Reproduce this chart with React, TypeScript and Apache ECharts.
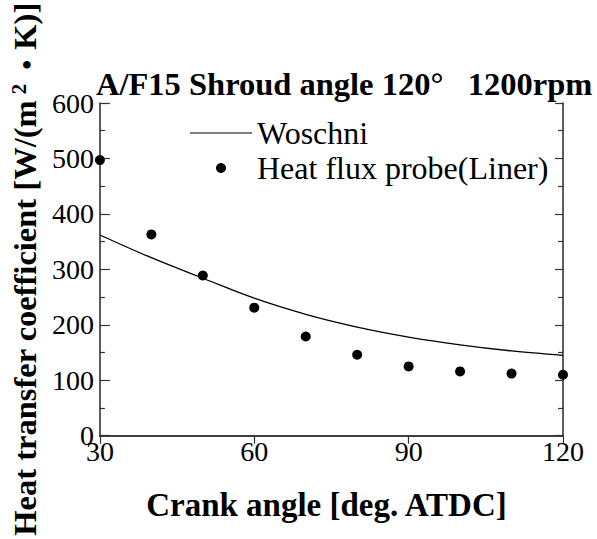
import React, { useEffect, useRef } from "react";
import * as echarts from "echarts";

const crankAngles = [30, 40, 50, 60, 70, 80, 90, 100, 110, 120];
const probeValues = [497, 363, 289, 231, 179, 146, 125, 116, 112, 110];
const woschniValues = [362, 321, 284, 248, 219, 196, 178, 164, 153, 145];
const xTicks = [30, 60, 90, 120];
const yTicks = [0, 100, 200, 300, 400, 500, 600];

const titleText = "A/F15 Shroud angle 120°   1200rpm";
const xName = "Crank angle [deg. ATDC]";
const yName = "Heat transfer coefficient [W/(m{sup|2}{dot|・}K)]";
const legendLine = "Woschni";
const legendDots = "Heat flux probe(Liner)";

const FONT = "'Liberation Serif', 'Times New Roman', serif";

export default function App() {
  const ref = useRef<HTMLDivElement>(null);
  useEffect(() => {
    if (!ref.current) return;
    const chart = echarts.init(ref.current, undefined, { renderer: "svg" });
    const axisLine = { show: true, lineStyle: { color: "#333", width: 1.6 } };
    const yMin = yTicks[0];
    const yMax = yTicks[yTicks.length - 1];
    const yInt = yTicks[1] - yTicks[0];
    const xMin = xTicks[0];
    const xMax = xTicks[xTicks.length - 1];
    const xInt = xTicks[1] - xTicks[0];
    chart.setOption({
      animation: false,
      backgroundColor: "#fff",
      title: {
        text: titleText,
        left: 96,
        top: 67,
        padding: 0,
        textStyle: { fontFamily: FONT, fontSize: 32.5, fontWeight: "bold", color: "#000" },
      },
      legend: {
        orient: "vertical",
        left: 190,
        top: 117,
        padding: 0,
        itemWidth: 62,
        itemHeight: 10,
        itemGap: 3,
        textStyle: { fontFamily: FONT, fontSize: 32, color: "#000", lineHeight: 30 },
        data: [
          { name: legendLine, icon: "path://M0,0H100V2H0Z", symbolKeepAspect: true, itemStyle: { color: "#000" } },
          { name: legendDots, icon: "circle", itemStyle: { color: "#000", opacity: 1 } },
        ],
      },
      grid: { left: 97, top: 103, width: 466, height: 334, containLabel: false },
      xAxis: [
        {
          type: "value",
          position: "bottom",
          min: xMin,
          max: xMax,
          interval: xInt,
          axisLine,
          axisTick: { show: false },
          splitLine: { show: false },
          axisLabel: { fontFamily: FONT, fontSize: 28, color: "#000", margin: 2 },
          name: xName,
          nameLocation: "middle",
          nameGap: 53,
          nameTextStyle: {
            fontFamily: FONT,
            fontSize: 33,
            fontWeight: "bold",
            color: "#000",
            padding: [0, 10, 0, 0],
          },
        },
        {
          type: "value",
          position: "top",
          min: xMin,
          max: xMax,
          interval: xInt,
          axisLine,
          axisTick: { show: true, inside: true, length: 8, lineStyle: { color: "#333", width: 1.2 } },
          axisLabel: { show: false },
          splitLine: { show: false },
        },
      ],
      yAxis: [
        {
          type: "value",
          position: "left",
          min: yMin,
          max: yMax,
          interval: yInt,
          axisLine,
          axisTick: { show: true, inside: true, length: 10, lineStyle: { color: "#333", width: 1.2 } },
          minorTick: { show: true, splitNumber: 2, length: 5, lineStyle: { color: "#333", width: 1.2 } },
          splitLine: { show: false },
          axisLabel: { fontFamily: FONT, fontSize: 28, color: "#000", margin: 6 },
          name: yName,
          nameLocation: "middle",
          nameRotate: 90,
          nameGap: 57,
          nameTextStyle: {
            fontFamily: FONT,
            fontSize: 32.5,
            fontWeight: "bold",
            color: "#000",
            rich: {
              sup: { fontFamily: FONT, fontSize: 21, fontWeight: "bold", color: "#000", verticalAlign: "top", padding: [0, 4, 12, 6] },
              dot: { fontFamily: "'Noto Sans CJK JP', sans-serif", fontSize: 30, fontWeight: "bold", color: "#000" },
            },
          },
        },
        {
          type: "value",
          position: "right",
          min: yMin,
          max: yMax,
          interval: yInt,
          axisLine,
          axisTick: { show: true, inside: true, length: 8, lineStyle: { color: "#333", width: 1.2 } },
          minorTick: { show: true, splitNumber: 2, length: 5, lineStyle: { color: "#333", width: 1.2 } },
          splitLine: { show: false },
          axisLabel: { show: false },
        },
      ],
      series: [
        {
          name: legendLine,
          type: "line",
          data: crankAngles.map((x, i) => [x, woschniValues[i]]),
          smooth: 0.35,
          showSymbol: false,
          symbol: "none",
          symbolKeepAspect: true,
          lineStyle: { color: "#000", width: 1.3 },
          itemStyle: { color: "#000" },
        },
        {
          name: legendDots,
          type: "scatter",
          data: crankAngles.map((x, i) => [x, probeValues[i]]),
          symbol: "circle",
          symbolSize: 10,
          itemStyle: { color: "#000", opacity: 1 },
        },
      ],
    });
    return () => chart.dispose();
  }, []);
  return (
    <div
      ref={ref}
      style={{ position: "absolute", left: 0, top: 0, width: 597, height: 539, background: "#fff" }}
    />
  );
}
